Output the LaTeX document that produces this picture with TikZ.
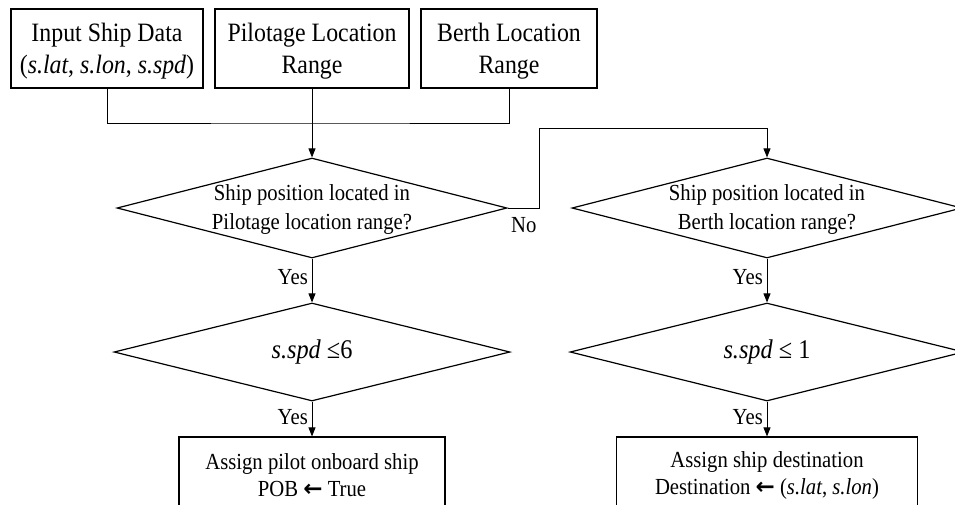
\documentclass[tikz,border=0pt]{standalone}
\usepackage{fontspec}
\setmainfont[FakeStretch=0.9]{Liberation Serif}
\newfontfamily\arrowfont{DejaVu Sans}
\usetikzlibrary{shapes.geometric,arrows.meta}
\newcommand{\heavyleft}{{\arrowfont\bfseries ←}}
\begin{document}
\begin{tikzpicture}[x=1pt,y=-1pt,
  box/.style={draw,line width=1.2pt,inner sep=0pt,align=center},
  topbox/.style={box,minimum height=79pt},
  toptext/.style={align=center,font=\fontsize{26.5}{32}\selectfont,yshift=-2.5pt},
  botbox/.style={box,minimum height=76pt,font=\fontsize{23}{27}\selectfont},
  dec/.style={draw,diamond,line width=1.2pt,inner sep=0pt,aspect=3.9},
  dtext/.style={align=center,font=\fontsize{23}{29}\selectfont,yshift=-1.5pt},
  mtext/.style={align=center,font=\fontsize{27}{29}\selectfont},
  conn/.style={line width=0.8pt},
  arr/.style={conn,-{Triangle[length=9pt,width=7pt]}},
  lbl/.style={font=\fontsize{23}{25}\selectfont,inner sep=1pt}]
\useasboundingbox (0,0) rectangle (955,504);
\clip (0,0) rectangle (955,504);

% top boxes
\node[topbox,minimum width=192pt,label={[toptext]center:Input Ship Data\\(\textit{s.lat}, \textit{s.lon}, \textit{s.spd})}] (in1) at (107,48.5) {};
\node[topbox,minimum width=194pt,label={[toptext]center:Pilotage Location\\Range}] (in2) at (312,48.5) {};
\node[topbox,minimum width=176pt,label={[toptext]center:Berth Location\\Range}] (in3) at (509,48.5) {};

% decisions
\node[dec,minimum width=390pt,minimum height=100pt,label={[dtext]center:Ship position located in\\Pilotage location range?}] (d1) at (312,208) {};
\node[dec,minimum width=390pt,minimum height=100pt,label={[dtext]center:Ship position located in\\Berth location range?}] (d2) at (767,208) {};
\node[dec,minimum width=396pt,minimum height=98pt,label={[mtext]center:\textit{s.spd} ≤6}] (d3) at (312,352) {};
\node[dec,minimum width=394pt,minimum height=98pt,label={[mtext]center:\textit{s.spd} ≤ 1}] (d4) at (767,352) {};

% bottom boxes
\node[botbox,minimum width=266pt] (b1) at (312,475) {Assign pilot onboard ship\\POB \heavyleft{} True};
\node[botbox,minimum width=301pt] (b2) at (767,475) {Assign ship destination\\Destination \heavyleft{} (\textit{s.lat}, \textit{s.lon})};

% connectors
\coordinate (j) at (312,123);
\coordinate (nb) at (539,128);
\draw[conn] (in1.south) |- (j) -| (in3.south);
\draw[arr] (in2.south) -- (d1.north);
\draw[arr] (d1.east) -| (nb) -| (d2.north);
\draw[arr] (d1.south) -- (d3.north);
\draw[arr] (d3.south) -- (b1.north);
\draw[arr] (d2.south) -- (d4.north);
\draw[arr] (d4.south) -- (b2.north);

% labels
\node[lbl,anchor=west] (no) at (510,225) {No};
\node[lbl,anchor=east] (y1) at (309,277) {Yes};
\node[lbl,anchor=east] (y2) at (309,417) {Yes};
\node[lbl,anchor=east] (y3) at (764,277) {Yes};
\node[lbl,anchor=east] (y4) at (764,417) {Yes};
\end{tikzpicture}
\end{document}
